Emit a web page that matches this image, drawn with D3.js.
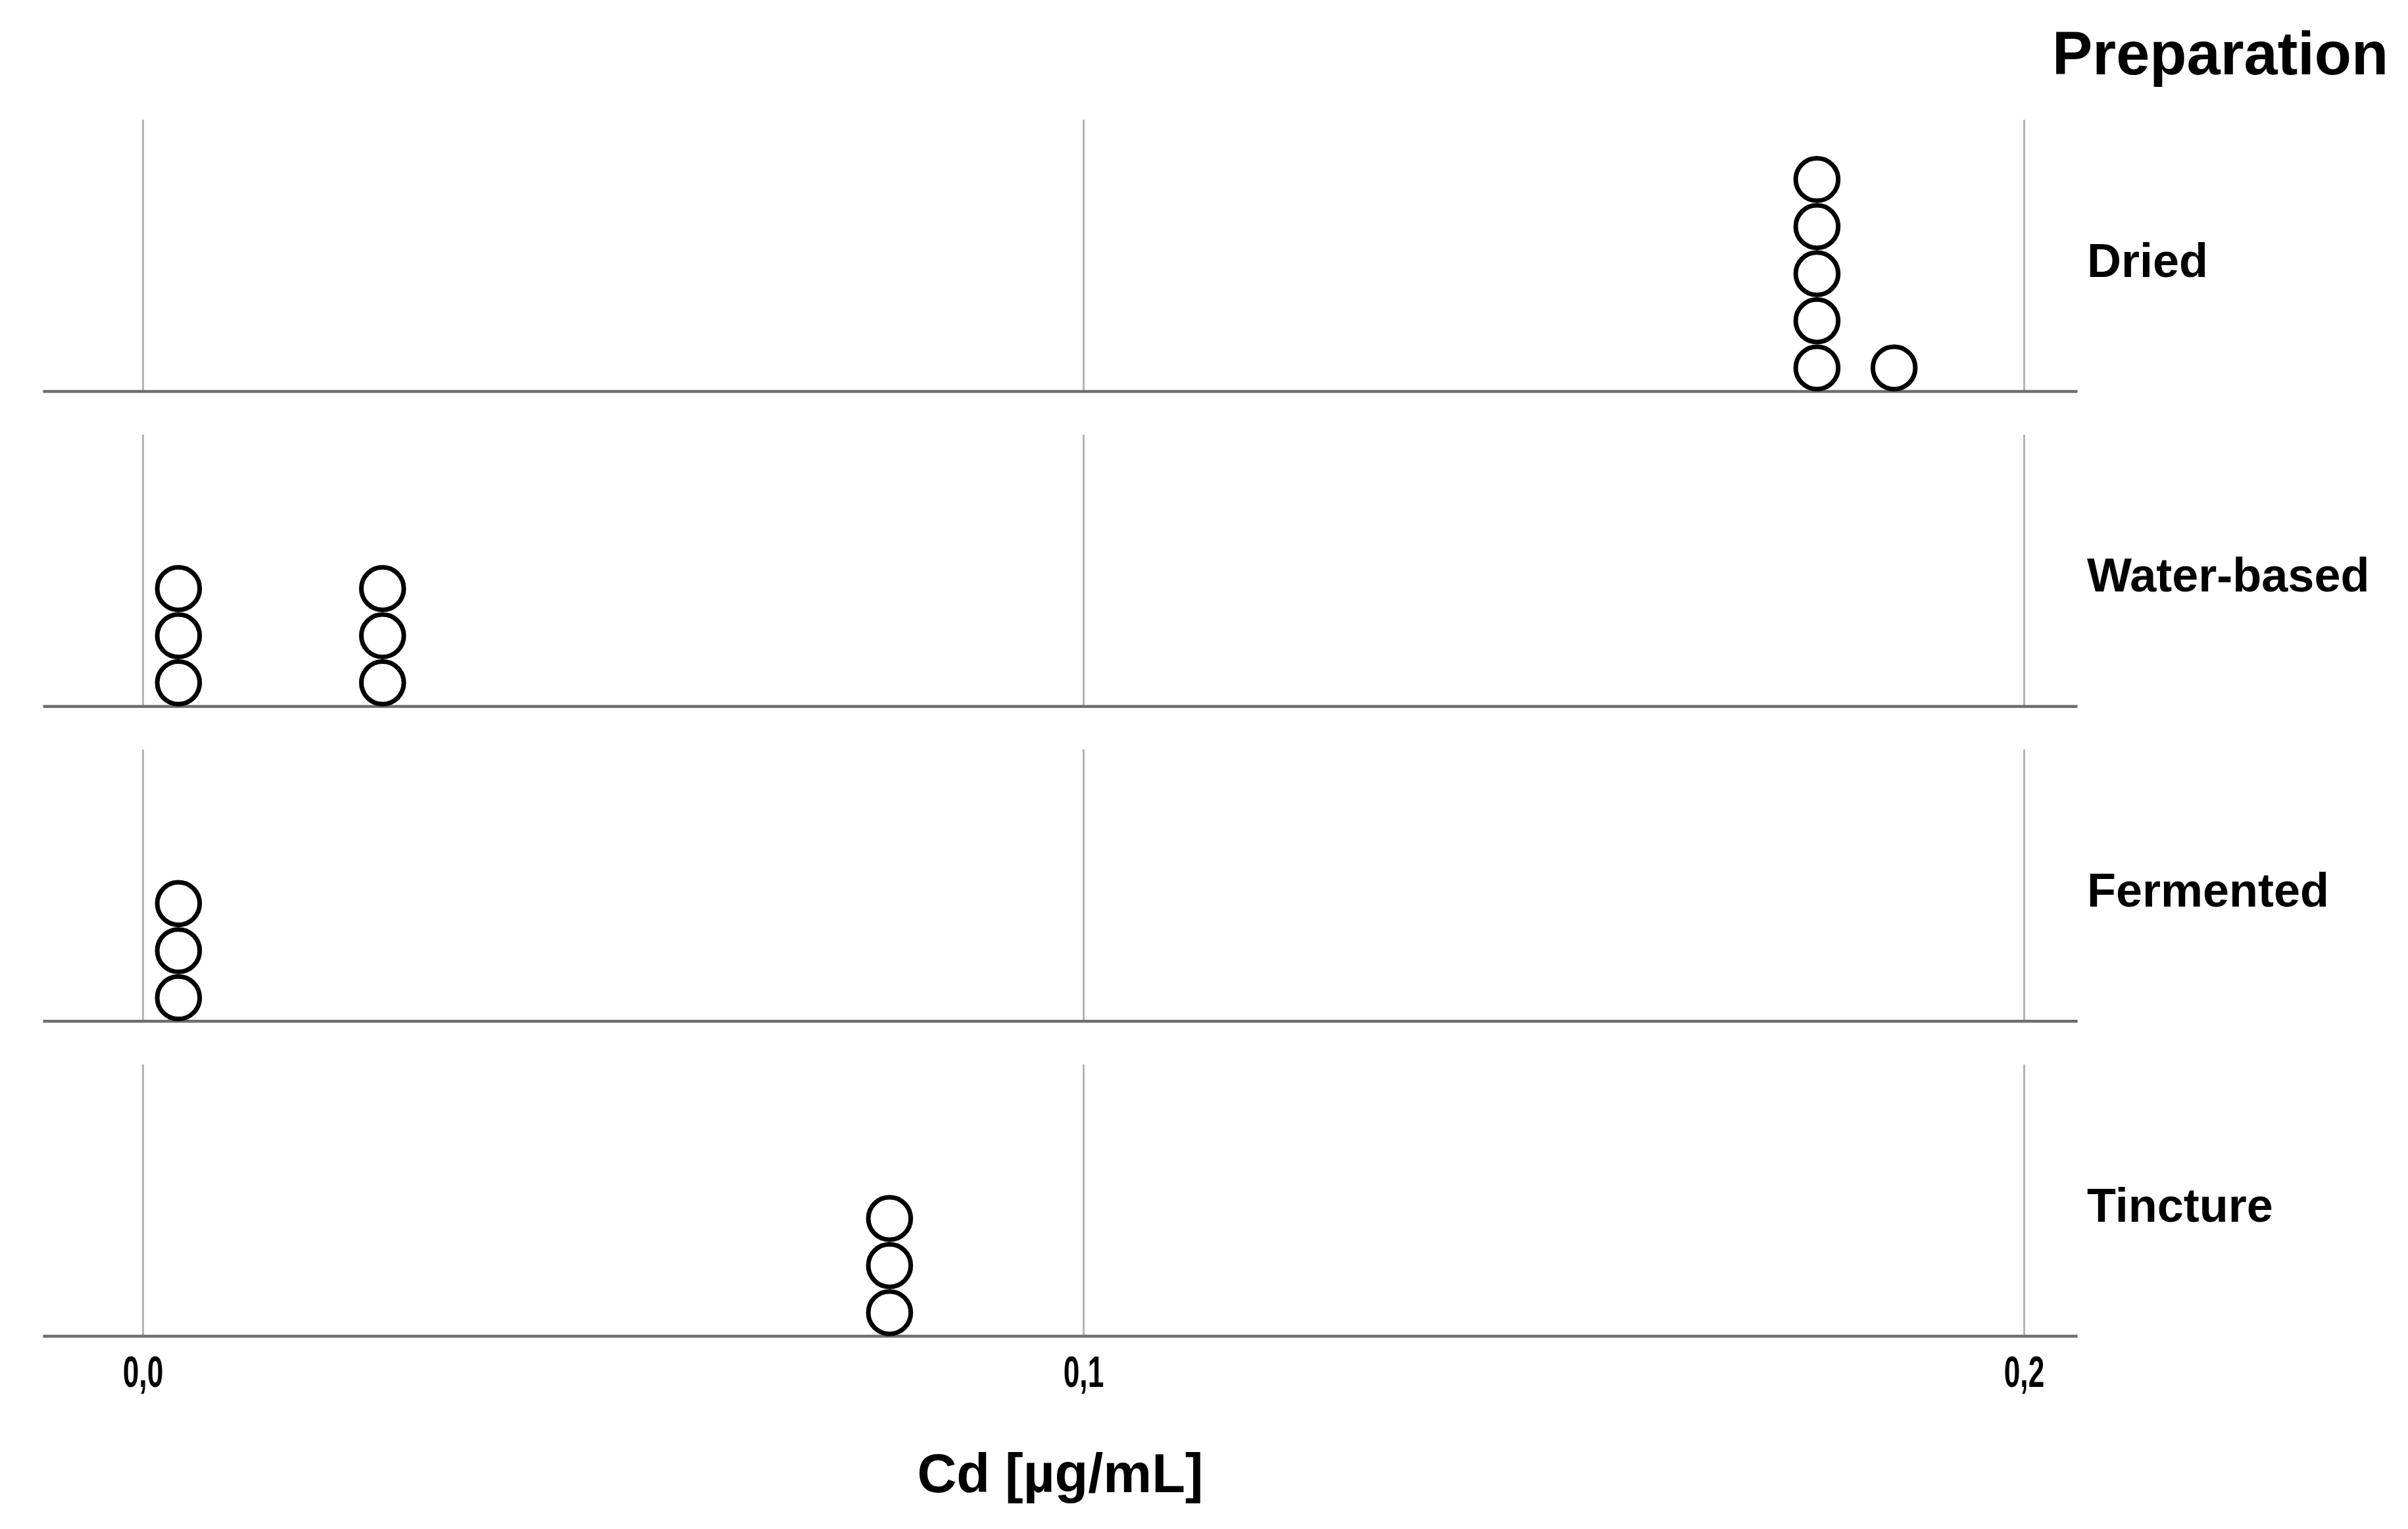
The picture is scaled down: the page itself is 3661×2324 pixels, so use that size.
<!DOCTYPE html>
<html>
<head>
<meta charset="utf-8">
<script src="https://cdn.jsdelivr.net/npm/d3@7"></script>
<style>
  body { margin: 0; background: #fff; }
  svg { display: block; font-family: 'Liberation Sans', Arial, sans-serif; }
</style>
</head>
<body>
<div id="chart-container"></div>
<script>
const categories = ['Dried', 'Water-based', 'Fermented', 'Tincture'];

// Cd values per preparation (one circle per sample, binned as in the dot plot)
const dried      = [0.178, 0.178, 0.178, 0.178, 0.178, 0.1862];
const waterBased = [0.0038, 0.0038, 0.0038, 0.0255, 0.0255, 0.0255];
const fermented  = [0.0038, 0.0038, 0.0038];
const tincture   = [0.0794, 0.0794, 0.0794];

const tickValues = [0, 0.1, 0.2];
const tickLabels = ['0,0', '0,1', '0,2'];

const w = 3661,
      h = 2324,
      panelH = 413,
      dotR = 35.8;

const series = [dried, waterBased, fermented, tincture];

const svg = d3.select('#chart-container')
  .append('svg')
  .attr('width', w)
  .attr('height', h);

const xScale = d3.scaleLinear()
  .domain([0, 0.2])
  .range([217, 3077]);

// bottom line of every panel
const yBase = d3.scalePoint()
  .domain(categories)
  .range([595, 2031]);

const lineLeft = xScale(-0.0106),
      lineRight = xScale(0.2057);

categories.forEach(function(cat, i) {
  const base = yBase(cat);
  const panel = svg.append('g').attr('class', 'panel');

  // vertical grid lines
  panel.append('g')
    .attr('transform', `translate(0, ${base})`)
    .call(d3.axisBottom(xScale).tickValues(tickValues).tickSize(-panelH).tickFormat(''))
    .call(g => g.select('.domain').remove())
    .call(g => g.selectAll('.tick line')
      .attr('stroke', '#b4b4b4')
      .attr('stroke-width', 3));

  panel.append('line')
    .attr('x1', lineLeft)
    .attr('x2', lineRight)
    .attr('y1', base)
    .attr('y2', base)
    .attr('stroke', '#6e6e6e')
    .attr('stroke-width', 4.5);

  // stack repeated values upward
  let counts = {};
  const dots = series[i].map(function(v) {
    counts[v] = (counts[v] || 0) + 1;
    return { value: v, level: counts[v] - 1 };
  });

  panel.selectAll('circle')
    .data(dots)
    .enter()
    .append('circle')
    .attr('cx', d => xScale(d.value))
    .attr('cy', d => base - dotR - d.level * dotR * 2)
    .attr('r', dotR - 3.5)
    .attr('fill', '#fff')
    .attr('stroke', '#000')
    .attr('stroke-width', 7);

  panel.append('text')
    .attr('x', 3173)
    .attr('y', base - panelH / 2 + 32)
    .style('font-size', '72px')
    .style('font-weight', 'bold')
    .text(cat);
});

// x axis labels under the last panel
const xAxis = svg.append('g')
  .attr('transform', `translate(0, ${yBase(categories[categories.length - 1])})`)
  .call(d3.axisBottom(xScale)
    .tickValues(tickValues)
    .tickSize(0)
    .tickPadding(29)
    .tickFormat((d, i) => tickLabels[i]));

xAxis.select('.domain').remove();
xAxis.selectAll('.tick text')
  .attr('fill', '#000')
  .attr('transform', 'scale(0.66, 1)')
  .style('font-family', "'Liberation Sans', Arial, sans-serif")
  .style('font-size', '67px')
  .style('font-weight', 'bold');

svg.append('text')
  .attr('x', (lineLeft + lineRight) / 2)
  .attr('y', 2268)
  .attr('text-anchor', 'middle')
  .style('font-size', '83px')
  .style('font-weight', 'bold')
  .text('Cd [µg/mL]');

svg.append('text')
  .attr('x', 3120)
  .attr('y', 113)
  .style('font-size', '92px')
  .style('font-weight', 'bold')
  .text('Preparation');
</script>
</body>
</html>
